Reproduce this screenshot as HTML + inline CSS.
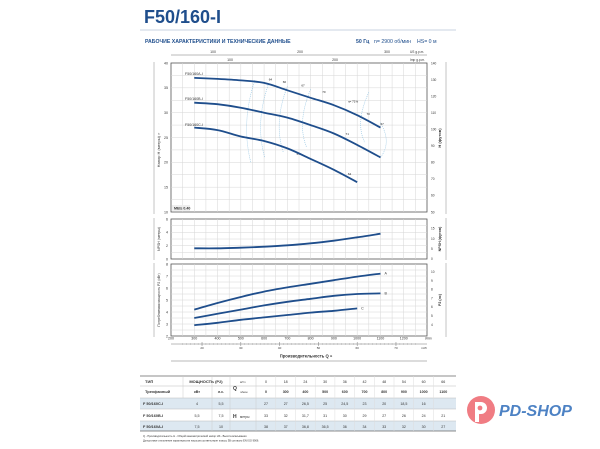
<!DOCTYPE html>
<html><head><meta charset="utf-8">
<style>
html,body{margin:0;padding:0;background:#fff;}
body{width:600px;height:449px;overflow:hidden;position:relative;font-family:"Liberation Sans","Noto Sans CJK SC",sans-serif;}
svg{position:absolute;left:0;top:0;}
</style></head>
<body>
<svg id="s" width="600" height="449" viewBox="0 0 600 449" xmlns="http://www.w3.org/2000/svg" font-family="Liberation Sans, sans-serif">
<text x="144" y="23" font-size="18" font-weight="bold" fill="#1f4e8c">F50/160-I</text>
<line x1="140" y1="30" x2="456" y2="30" stroke="#c8d3e0" stroke-width="1"/>
<text x="145" y="43" font-size="5.2" font-weight="bold" fill="#1f4e8c">РАБОЧИЕ ХАРАКТЕРИСТИКИ И ТЕХНИЧЕСКИЕ ДАННЫЕ</text>
<text x="356" y="43" font-size="5.2" font-weight="bold" fill="#1f4e8c">50 Гц</text>
<text x="374" y="43" font-size="5.2" fill="#1f4e8c">n= 2900 об/мин</text>
<text x="417" y="43" font-size="5.2" fill="#1f4e8c">HS= 0 м</text>
<g id="g"></g>
</svg>
<script>
// ---------- data ----------
const flowQ = [300,400,500,600,700,800,900,1000,1100];
const headA = [37,36.8,36.5,36,34.5,33,31.5,29.5,27];
const headB = [32,31.7,31,30,29,27.5,25.8,23.5,21];
const headC = [27,26.5,25.2,24.3,22.8,20.7,18.5,16];
const npshVals = [1.6,1.6,1.7,1.85,2.05,2.35,2.75,3.25,3.8];
const powerA = [4.2,4.75,5.25,5.7,6.05,6.35,6.65,6.95,7.2];
const powerB = [3.5,3.85,4.2,4.55,4.85,5.1,5.35,5.5,5.55];
const powerC = [2.9,3.1,3.35,3.55,3.75,3.95,4.1,4.3];
const headTicks = [10,15,20,25,30,35,40];
const feetTicks = [50,60,70,80,90,100,110,120,130,140];
const npshTicks = [0,2,4,6];
const npshFtTicks = [0,5,10,15];
const powerTicks = [2,3,4,5,6,7,8];
const hpTicks = [4,5,6,7,8,9,10];
const qTicks = [200,300,400,500,600,700,800,900,1000,1100,1200];
const m3hTicks = [20,30,40,50,60,70];
const tableQm3 = ['0','18','24','30','36','42','48','54','60','66'];
const tableQl = ['0','300','400','500','600','700','800','900','1000','1100'];
const rowC = ['27','27','26,5','25','24,5','23','20','18,5','16',''];
const rowB = ['33','32','31,7','31','30','29','27','26','24','21'];
const rowA = ['38','37','36,8','36,5','36','34','33','32','30','27'];

// ---------- axes ----------
const L=171,R=427;
const xQ=q=>L+(q-200)*(R-L)/1100;
const yH=h=>63+(40-h)*(212-63)/30;
const yN=v=>259-v*(259-219)/6;
const yP=v=>336-(v-2)*(336-264)/6;
const g=document.getElementById('g');
const NS='http://www.w3.org/2000/svg';
function mk(t,a,par){const e=document.createElementNS(NS,t);for(const k in a)e.setAttribute(k,a[k]);(par||g).appendChild(e);return e;}
function txt(x,y,s,sz,extra){const e=mk('text',Object.assign({x:x,y:y,'font-size':sz,fill:'#333'},extra||{}));e.textContent=s;return e;}

function panel(top,bot,name){
  const r=mk('rect',{x:L,y:top,width:R-L,height:bot-top,fill:'#fff',stroke:'#555','stroke-width':0.8});
  
  
  for(let q=250;q<1300;q+=50){mk('line',{x1:xQ(q),y1:top,x2:xQ(q),y2:bot,stroke:'#d6d6d6','stroke-width':0.5});}
}
function curve(xs,ys,fy,name){
  const pts=ys.map((v,i)=>[xQ(xs[i]),fy(v)]);
  let d='M'+pts[0][0].toFixed(1)+' '+pts[0][1].toFixed(1);
  for(let i=0;i<pts.length-1;i++){
    const p0=pts[Math.max(0,i-1)],p1=pts[i],p2=pts[i+1],p3=pts[Math.min(pts.length-1,i+2)];
    const c1=[p1[0]+(p2[0]-p0[0])/6,p1[1]+(p2[1]-p0[1])/6];
    const c2=[p2[0]-(p3[0]-p1[0])/6,p2[1]-(p3[1]-p1[1])/6];
    d+=`C${c1[0].toFixed(1)} ${c1[1].toFixed(1)} ${c2[0].toFixed(1)} ${c2[1].toFixed(1)} ${p2[0].toFixed(1)} ${p2[1].toFixed(1)}`;
  }
  const p=mk('path',{d:d,fill:'none',stroke:'#1f4e8c','stroke-width':1.8,'stroke-linejoin':'round'});
  
  
}

// top axes
mk('line',{x1:L,y1:55,x2:R,y2:55,stroke:'#777','stroke-width':0.5});
[[100,213],[200,300],[300,387]].forEach(a=>txt(a[1],53,String(a[0]),3.5,{'text-anchor':'middle'}));
[[100,230],[200,335]].forEach(a=>txt(a[1],61,String(a[0]),3.5,{'text-anchor':'middle'}));
txt(410,53,'US g.p.m.',3.2);txt(410,61,'Imp g.p.m.',3.2);

// main head panel
panel(63,212,'head-chart');
for(let h=12.5;h<40;h+=2.5){mk('line',{x1:L,y1:yH(h),x2:R,y2:yH(h),stroke:'#d6d6d6','stroke-width':0.5});}
headTicks.forEach(t=>txt(L-3,yH(t)+1.3,String(t),3.6,{'text-anchor':'end'}));
feetTicks.forEach((t,i)=>txt(R+4,212-i*(149/9)+1.3,String(t),3.2));
mk('line',{x1:154,y1:62,x2:154,y2:214,stroke:'#888','stroke-width':0.5});
mk('line',{x1:446,y1:62,x2:446,y2:214,stroke:'#888','stroke-width':0.5});
txt(0,0,'Напор H (метры) »',4,{transform:'translate(160,150) rotate(-90)','text-anchor':'middle'});
txt(0,0,'H (футов)',4,{transform:'translate(441,138) rotate(-90)','text-anchor':'middle','font-weight':'bold'});
// efficiency iso lines
[[560,'64'],[620,'66'],[700,'67'],[800,'70'],[1050,'70']].forEach((e,i)=>{
  const x=xQ(e[0]);
  mk('path',{d:`M${x} ${yH(36.5-i*0.6)} Q${x-14} ${yH(28)} ${x-4} ${yH(20+i)}`,fill:'none',stroke:'#8cc0e0','stroke-width':0.6,'stroke-dasharray':'1 1'});
});
mk('path',{d:`M${xQ(1100)} ${yH(28)} Q${xQ(1150)} ${yH(24)} ${xQ(1100)} ${yH(21)}`,fill:'none',stroke:'#8cc0e0','stroke-width':0.6,'stroke-dasharray':'1 1'});
[[620,36.5,'64'],[680,36,'66'],[760,35.3,'67'],[850,34,'70'],[960,32,'η= 71%'],[1040,29.5,'70'],[1100,27.5,'67'],[950,25.5,'71'],[740,21.5,'64'],[960,17.5,'64']].forEach(a=>txt(xQ(a[0]),yH(a[1]),a[2],3,{fill:'#222'}));
curve(flowQ,headA,yH,'curve-head-a');
curve(flowQ,headB,yH,'curve-head-b');
curve(flowQ,headC,yH,'curve-head-c');
txt(185,75,'F50/160A-I',3.6);txt(185,100,'F50/160B-I',3.6);txt(185,126,'F50/160C-I',3.6);
mk('rect',{x:172,y:205,width:18,height:6,fill:'#eee'});
txt(174,209.6,'MEI≥ 0.40',3.6,{'font-weight':'bold'});

// NPSH panel
panel(219,259,'npsh-chart');
[1,2,3,4,5].forEach(v=>mk('line',{x1:L,y1:yN(v),x2:R,y2:yN(v),stroke:'#d6d6d6','stroke-width':0.5}));
npshTicks.forEach(t=>txt(L-3,yN(t)+1.3,String(t),3.6,{'text-anchor':'end'}));
npshFtTicks.forEach(t=>txt(R+4,yN(t*0.3048)+1.2,String(t),3.2));
mk('line',{x1:154,y1:218,x2:154,y2:260,stroke:'#888','stroke-width':0.5});
mk('line',{x1:446,y1:218,x2:446,y2:260,stroke:'#888','stroke-width':0.5});
txt(0,0,'NPSH (метры)',3.6,{transform:'translate(160,239) rotate(-90)','text-anchor':'middle'});
txt(0,0,'NPSH (футов)',3.6,{transform:'translate(441,239) rotate(-90)','text-anchor':'middle','font-weight':'bold'});
curve(flowQ,npshVals,yN,'curve-npsh');

// power panel
panel(264,336,'power-chart');
[2.5,3,3.5,4,4.5,5,5.5,6,6.5,7,7.5].forEach(v=>mk('line',{x1:L,y1:yP(v),x2:R,y2:yP(v),stroke:'#d6d6d6','stroke-width':0.5}));
powerTicks.forEach(t=>txt(L-3,yP(t)+1.3,String(t),3.6,{'text-anchor':'end'}));
hpTicks.forEach(t=>txt(R+4,yP(t*0.7355)+1.2,String(t),3.2));
mk('line',{x1:154,y1:263,x2:154,y2:337,stroke:'#888','stroke-width':0.5});
mk('line',{x1:446,y1:263,x2:446,y2:337,stroke:'#888','stroke-width':0.5});
txt(0,0,'Потребляемая мощность P2 (кВт)',3.4,{transform:'translate(160,300) rotate(-90)','text-anchor':'middle'});
txt(0,0,'P2 (лс)',3.6,{transform:'translate(441,300) rotate(-90)','text-anchor':'middle','font-weight':'bold'});
curve(flowQ,powerA,yP,'curve-power-a');
curve(flowQ,powerB,yP,'curve-power-b');
curve(flowQ,powerC,yP,'curve-power-c');
txt(xQ(1100)+4,yP(7.2)+1,'A',3.6);txt(xQ(1100)+4,yP(5.55)+1,'B',3.6);txt(xQ(1000)+4,yP(4.3)+1,'C',3.6);

// bottom axes
qTicks.forEach(q=>txt(xQ(q),339.5,String(q),3.6,{'text-anchor':'middle'}));
txt(R-2,339.5,'l/min',3.2);
mk('line',{x1:L,y1:344,x2:R,y2:344,stroke:'#777','stroke-width':0.5});
m3hTicks.forEach(m=>{const x=xQ(m*1000/60);mk('line',{x1:x,y1:342,x2:x,y2:346,stroke:'#777','stroke-width':0.5});txt(x,349,String(m),3,{'text-anchor':'middle'});});
for(let m=15;m<=75;m++){const x=xQ(m*1000/60);if(x<R)mk('line',{x1:x,y1:343,x2:x,y2:345,stroke:'#999','stroke-width':0.3});}
txt(R-6,349,'m³/h',3);
txt(306,357.5,'Производительность Q »',4.2,{'text-anchor':'middle','font-weight':'bold'});
mk('line',{x1:171,y1:361,x2:427,y2:361,stroke:'#777','stroke-width':0.6});

// table
const cx=i=>266+i*19.7;
const tb=mk('g',{});


mk('rect',{x:140,y:398,width:316,height:11,fill:'#dde8f1'},tb);
mk('rect',{x:140,y:421,width:316,height:10,fill:'#dde8f1'},tb);
[376,386,398,409,421,431].forEach((y,i)=>mk('line',{x1:140,y1:y,x2:456,y2:y,stroke:i==0||i==5?'#666':'#bbb','stroke-width':i==0||i==5?0.8:0.5},tb));
[[183,376,398],[212,376,431],[230,376,431],[256,376,431]].forEach(a=>mk('line',{x1:a[0],y1:a[1],x2:a[0],y2:a[2],stroke:'#ccc','stroke-width':0.5},tb));
for(let i=0;i<9;i++)mk('line',{x1:cx(i)+9.8,y1:376,x2:cx(i)+9.8,y2:431,stroke:'#ddd','stroke-width':0.5},tb);
txt(145,383,'ТИП',4,{'font-weight':'bold'});
txt(145,393,'Трехфазный',4,{'font-weight':'bold'});
txt(206,383,'МОЩНОСТЬ (P2)',4,{'font-weight':'bold','text-anchor':'middle'});
txt(197,393,'кВт',3.6,{'text-anchor':'middle','font-weight':'bold'});
txt(221,393,'л.с.',3.6,{'text-anchor':'middle','font-weight':'bold'});
txt(233,390,'Q',5,{'font-weight':'bold'});
txt(240,383,'м³/ч',3);txt(240,393,'л/мин',2.8);
txt(233,418,'H',5,{'font-weight':'bold'});txt(240,418,'метры',3.2);
tableQm3.forEach((v,i)=>txt(cx(i),383,v,3.6,{'text-anchor':'middle'}));
tableQl.forEach((v,i)=>txt(cx(i),393,v,3.6,{'text-anchor':'middle','font-weight':'bold'}));
[['F 50/160C-I','4','5,5',rowC,405],['F 50/160B-I','5,5','7,5',rowB,417],['F 50/160A-I','7,5','10',rowA,428]].forEach(r=>{
  txt(143,r[4],r[0],3.8,{'font-weight':'bold'});
  txt(197,r[4],r[1],3.6,{'text-anchor':'middle'});
  txt(221,r[4],r[2],3.6,{'text-anchor':'middle'});
  r[3].forEach((v,i)=>txt(cx(i),r[4],v,3.6,{'text-anchor':'middle'}));
});
txt(143,437,'Q - Производительность   H - Общий манометрический напор   HS - Высота всасывания',2.6);
txt(143,441.5,'Допустимое отклонение характеристик насосов соответствует классу 3B согласно EN ISO 9906.',2.6);

// logo
const lg=mk('g',{});


mk('circle',{cx:481,cy:410,r:14,fill:'#f07c83'},lg);
mk('path',{d:'M475 402 h6 a6 6 0 0 1 0 12 h-2 v8 h-4 z',fill:'#fff'},lg);
mk('circle',{cx:480,cy:408,r:2.4,fill:'#f07c83'},lg);
const lt=txt(499,416,'PD-SHOP',16,{fill:'#4d82c4','font-weight':'bold','font-style':'italic'});
lg.appendChild(lt);
</script>
</body></html>
